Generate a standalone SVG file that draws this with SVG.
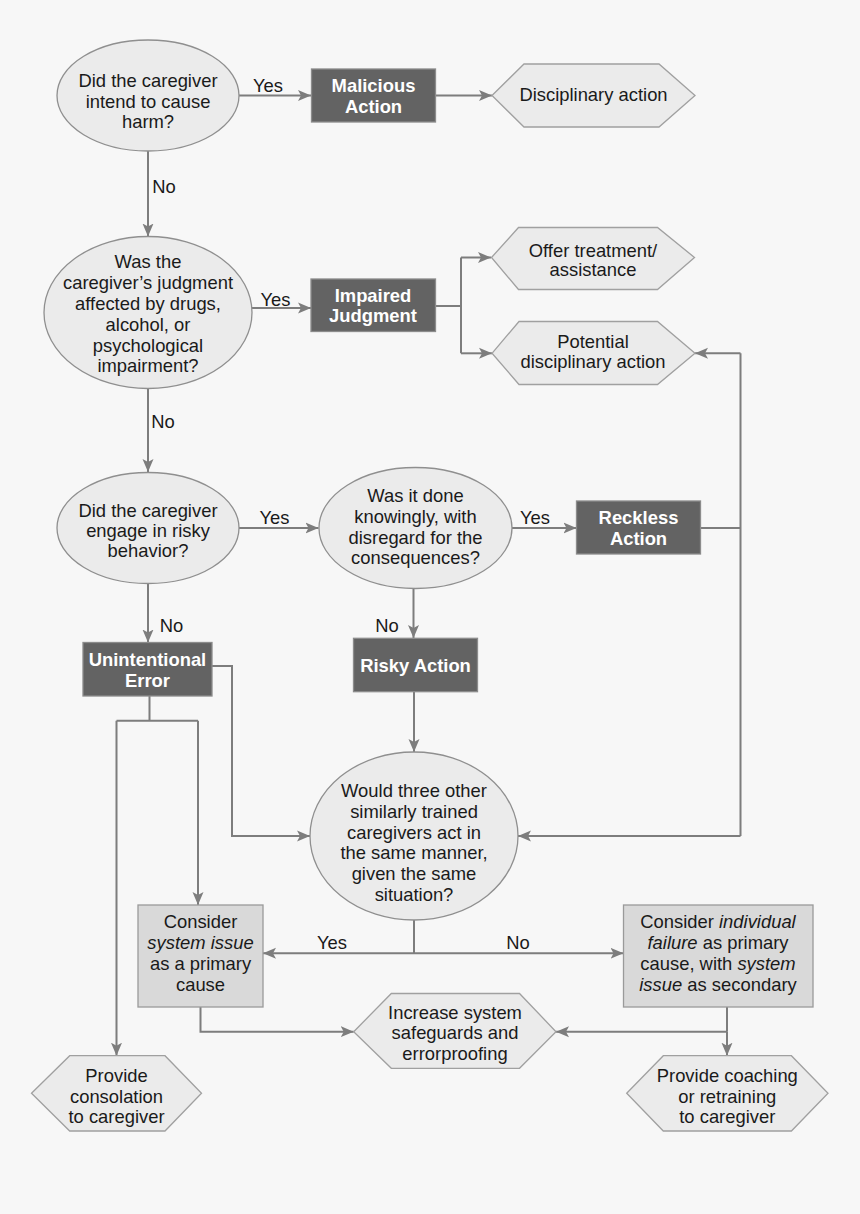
<svg xmlns="http://www.w3.org/2000/svg" width="860" height="1214" viewBox="0 0 860 1214">
<style>
text{font-family:"Liberation Sans",Arial,sans-serif;font-size:18.4px;fill:#1a1a1a;text-anchor:middle}
.q{fill:#ebebeb;stroke:#8f8f8f;stroke-width:1.3}
.d{fill:#636363;stroke:#8c8c8c;stroke-width:1.3}
.d+text,.w{fill:#ffffff;font-weight:bold}
.h{fill:#ebebeb;stroke:#a0a0a0;stroke-width:1.3}
.l{fill:#d9d9d9;stroke:#9a9a9a;stroke-width:1.3}
.c path{fill:none;stroke:#7d7d7d;stroke-width:2}
.c path.a{marker-end:url(#ah)}
.lbl{text-anchor:middle}
i,.it{font-style:italic}
</style>
<defs>
<marker id="ah" markerUnits="userSpaceOnUse" markerWidth="14" markerHeight="12" refX="13" refY="6" orient="auto">
<path d="M0,0.5 L13,6 L0,11.5 L3,6 Z" fill="#7d7d7d"/>
</marker>
</defs>
<rect width="860" height="1214" fill="#f7f7f7"/>

<g class="c" id="connectors">
<path class="a" d="M239,95.5 H311"/>
<path class="a" d="M436,95.5 H492"/>
<path class="a" d="M148,151 V236.5"/>
<path class="a" d="M252,308 H311"/>
<path d="M435,306 H461 M461,257.5 V353.3"/>
<path class="a" d="M461,257.5 H491"/>
<path class="a" d="M461,353.3 H492"/>
<path class="a" d="M148,388.5 V472"/>
<path class="a" d="M239,528 H318.5"/>
<path class="a" d="M512,528 H576.5"/>
<path d="M700.5,528 H740.5 M740.5,353.3 V836"/>
<path class="a" d="M740.5,353.3 H695"/>
<path class="a" d="M740.5,836 H518"/>
<path class="a" d="M148,583.5 V642.5"/>
<path class="a" d="M413.5,588.5 V638"/>
<path class="a" d="M414,691.5 V752"/>
<path class="a" d="M212,666 H232 V836 H310"/>
<path d="M149.5,696 V720.7 M116.5,720.7 H198"/>
<path class="a" d="M116.5,720.7 V1055.7"/>
<path class="a" d="M198,720.7 V905"/>
<path d="M414,920 V953.3"/>
<path class="a" d="M414,953.3 H263"/>
<path class="a" d="M414,953.3 H623.5"/>
<path class="a" d="M200.5,1007 V1031.7 H353.7"/>
<path d="M727,1007 V1031.7"/>
<path class="a" d="M727,1031.7 H556"/>
<path class="a" d="M727,1031.7 V1055.7"/>
</g>

<g id="labels">
<text x="268" y="91.5">Yes</text>
<text x="164" y="193">No</text>
<text x="275.5" y="305.5">Yes</text>
<text x="163" y="428">No</text>
<text x="274.5" y="523.5">Yes</text>
<text x="535" y="523.5">Yes</text>
<text x="171.5" y="631.5">No</text>
<text x="387" y="631.5">No</text>
<text x="332" y="948.5">Yes</text>
<text x="518" y="948.5">No</text>
</g>

<g id="q1">
<ellipse class="q" cx="148" cy="95.5" rx="91" ry="55.5"/>
<text x="148" y="87">Did the caregiver</text>
<text x="148" y="107.5">intend to cause</text>
<text x="148" y="128">harm?</text>
</g>

<g id="malicious">
<rect class="d" x="311.5" y="69" width="124" height="53"/>
<text class="w" x="373.5" y="91.5">Malicious</text>
<text class="w" x="373.5" y="112.5">Action</text>
</g>

<g id="disciplinary">
<polygon class="h" points="492,95.5 524,64 659,64 695,95.5 659,127 524,127"/>
<text x="593.5" y="101">Disciplinary action</text>
</g>

<g id="q2">
<ellipse class="q" cx="148" cy="312.5" rx="104" ry="76"/>
<text x="148" y="268">Was the</text>
<text x="148" y="289">caregiver’s judgment</text>
<text x="148" y="310">affected by drugs,</text>
<text x="148" y="330.5">alcohol, or</text>
<text x="148" y="351.5">psychological</text>
<text x="148" y="372">impairment?</text>
</g>

<g id="impaired">
<rect class="d" x="311" y="279" width="124.5" height="52.5"/>
<text class="w" x="373" y="301.5">Impaired</text>
<text class="w" x="373" y="322">Judgment</text>
</g>

<g id="offer">
<polygon class="h" points="491.5,257.5 518.5,227.5 657.5,227.5 694.5,257.5 657.5,289.5 518.5,289.5"/>
<text x="593" y="256.5">Offer treatment/</text>
<text x="593" y="276">assistance</text>
</g>

<g id="potential">
<polygon class="h" points="492,353.3 519,321.5 657.5,321.5 695,353.3 657.5,384.5 519,384.5"/>
<text x="593" y="348">Potential</text>
<text x="593" y="368">disciplinary action</text>
</g>

<g id="q3">
<ellipse class="q" cx="148" cy="528" rx="91" ry="55.5"/>
<text x="148" y="517">Did the caregiver</text>
<text x="148" y="537">engage in risky</text>
<text x="148" y="557">behavior?</text>
</g>

<g id="q4">
<ellipse class="q" cx="415.5" cy="528" rx="96.5" ry="60.5"/>
<text x="415.5" y="501.5">Was it done</text>
<text x="415.5" y="523">knowingly, with</text>
<text x="415.5" y="544">disregard for the</text>
<text x="415.5" y="564">consequences?</text>
</g>

<g id="reckless">
<rect class="d" x="576.5" y="501" width="124" height="53"/>
<text class="w" x="638.5" y="524">Reckless</text>
<text class="w" x="638.5" y="545">Action</text>
</g>

<g id="unintentional">
<rect class="d" x="83" y="642.5" width="129" height="53.5"/>
<text class="w" x="147.5" y="665.5">Unintentional</text>
<text class="w" x="147.5" y="686.5">Error</text>
</g>

<g id="risky">
<rect class="d" x="353.5" y="638.3" width="124" height="53.4"/>
<text class="w" x="415.5" y="672">Risky Action</text>
</g>

<g id="q5">
<ellipse class="q" cx="414" cy="836" rx="104" ry="84"/>
<text x="414" y="796.5">Would three other</text>
<text x="414" y="818">similarly trained</text>
<text x="414" y="839">caregivers act in</text>
<text x="414" y="859">the same manner,</text>
<text x="414" y="880">given the same</text>
<text x="414" y="900.5">situation?</text>
</g>

<g id="system">
<rect class="l" x="138" y="905" width="125" height="102"/>
<text x="200.5" y="928">Consider</text>
<text x="200.5" y="949" font-style="italic">system issue</text>
<text x="200.5" y="970">as a primary</text>
<text x="200.5" y="990.5">cause</text>
</g>

<g id="individual">
<rect class="l" x="623.5" y="905" width="189.5" height="102"/>
<text x="718" y="928">Consider <tspan font-style="italic">individual</tspan></text>
<text x="718" y="949"><tspan font-style="italic">failure</tspan> as primary</text>
<text x="718" y="970">cause, with <tspan font-style="italic">system</tspan></text>
<text x="718" y="990.5"><tspan font-style="italic">issue</tspan> as secondary</text>
</g>

<g id="safeguards">
<polygon class="h" points="353.7,1031.7 391.3,993.5 519.5,993.5 556,1031.7 519.5,1068.3 391.3,1068.3"/>
<text x="455" y="1019">Increase system</text>
<text x="455" y="1039">safeguards and</text>
<text x="455" y="1060">errorproofing</text>
</g>

<g id="consolation">
<polygon class="h" points="31.5,1093.3 69.7,1055.7 165,1055.7 201.5,1093.3 165,1131 69.7,1131"/>
<text x="116.5" y="1081.5">Provide</text>
<text x="116.5" y="1102.5">consolation</text>
<text x="116.5" y="1122.5">to caregiver</text>
</g>

<g id="coaching">
<polygon class="h" points="626.7,1093.3 663.3,1055.7 791.4,1055.7 828,1093.3 791.4,1131 663.3,1131"/>
<text x="727.3" y="1081.5">Provide coaching</text>
<text x="727.3" y="1102.5">or retraining</text>
<text x="727.3" y="1122.5">to caregiver</text>
</g>
</svg>
